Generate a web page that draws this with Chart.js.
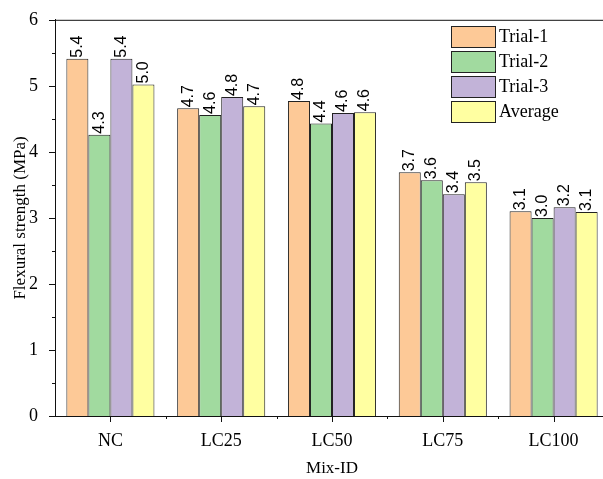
<!DOCTYPE html>
<html>
<head>
<meta charset="utf-8">
<script src="https://cdn.jsdelivr.net/npm/chart.js@4"></script>
<style>
  html, body { margin: 0; padding: 0; background: #fff; overflow: hidden; }
  #wrap { width: 620px; height: 479px; }
</style>
</head>
<body>
<div id="wrap"><canvas id="chart" width="620" height="479"></canvas></div>
<script>
const categories = ['NC', 'LC25', 'LC50', 'LC75', 'LC100']
const seriesNames = ['Trial-1', 'Trial-2', 'Trial-3', 'Average']
const trial1 = [5.41, 4.66, 4.77, 3.69, 3.10]
const trial2 = [4.26, 4.56, 4.43, 3.57, 3.00]
const trial3 = [5.41, 4.83, 4.59, 3.36, 3.16]
const average = [5.02, 4.69, 4.60, 3.54, 3.09]
const yTicks = [0, 1, 2, 3, 4, 5, 6]

const colors = ['#fdc997', '#a1da9f', '#c2b3d8', '#ffffa1']
const serif = '"Liberation Serif", "Times New Roman", serif'

// etiquetas verticais em cima das barras
const valueLabels = {
    id: 'valueLabels',
    afterDatasetsDraw(chart) {
        const ctx = chart.ctx
        ctx.save()
        ctx.font = '16px "Liberation Sans", Arial, sans-serif'
        ctx.fillStyle = '#000'
        ctx.textAlign = 'left'
        ctx.textBaseline = 'middle'
        chart.data.datasets.forEach((ds, i) => {
            chart.getDatasetMeta(i).data.forEach((bar, j) => {
                ctx.save()
                ctx.translate(bar.x, bar.y - 1)
                ctx.rotate(-Math.PI / 2)
                ctx.fillText(ds.data[j].toFixed(1), 0, 0)
                ctx.restore()
            })
        })
        ctx.restore()
    }
}

// moldura, ticks e legenda
const frame = {
    id: 'frame',
    afterDraw(chart) {
        const ctx = chart.ctx
        const a = chart.chartArea
        const y = chart.scales.y
        const x = chart.scales.x
        ctx.save()
        ctx.strokeStyle = '#111'
        ctx.lineWidth = 1
        ctx.beginPath()
        ctx.moveTo(a.left, a.top + 0.5)
        ctx.lineTo(a.right, a.top + 0.5)
        ctx.moveTo(a.right + 0.5, a.top)
        ctx.lineTo(a.right + 0.5, a.bottom)
        // y ticks
        for (let v = 0; v <= 6; v += 0.5) {
            const py = Math.round(y.getPixelForValue(v)) + 0.5
            const len = Number.isInteger(v) ? 6 : 3
            ctx.moveTo(a.left - len, py)
            ctx.lineTo(a.left, py)
        }
        // x ticks
        categories.forEach((c, i) => {
            const px = Math.round(x.getPixelForValue(i)) + 0.5
            ctx.moveTo(px, a.bottom)
            ctx.lineTo(px, a.bottom + 6)
            if (i > 0) {
                const pm = Math.round((x.getPixelForValue(i) + x.getPixelForValue(i - 1)) / 2) + 0.5
                ctx.moveTo(pm, a.bottom)
                ctx.lineTo(pm, a.bottom + 3)
            }
        })
        ctx.stroke()

        // legenda
        const lx = 451, ly = 26, bw = 44, bh = 21, step = 25
        ctx.font = '18px ' + serif
        ctx.textBaseline = 'middle'
        ctx.textAlign = 'left'
        seriesNames.forEach((name, i) => {
            ctx.fillStyle = colors[i]
            ctx.fillRect(lx, ly + i * step, bw, bh)
            ctx.strokeStyle = '#222'
            ctx.strokeRect(lx + 0.5, ly + i * step + 0.5, bw, bh)
            ctx.fillStyle = '#000'
            ctx.fillText(name, lx + bw + 4, ly + i * step + bh / 2 + 1)
        })
        ctx.restore()
    }
}

const data = [trial1, trial2, trial3, average]

new Chart(document.getElementById('chart'), {
    type: 'bar',
    data: {
        labels: categories,
        datasets: seriesNames.map((name, i) => ({
            label: name,
            data: data[i],
            backgroundColor: colors[i],
            borderColor: '#222',
            borderWidth: 1,
            barPercentage: 1.0,
            categoryPercentage: 0.795
        }))
    },
    options: {
        responsive: false,
        animation: false,
        layout: { padding: { top: 16, right: 11, left: 0, bottom: 0 } },
        plugins: {
            legend: { display: false },
            tooltip: { enabled: false }
        },
        scales: {
            x: {
                grid: { display: false, offset: false },
                border: { display: true, color: '#111', width: 1 },
                ticks: {
                    color: '#000',
                    font: { family: serif, size: 18 },
                    padding: 6,
                    maxRotation: 0
                },
                title: {
                    display: true,
                    text: 'Mix-ID',
                    color: '#000',
                    font: { family: serif, size: 17 },
                    padding: { top: 4, bottom: 0 }
                },
                afterFit(scale) { scale.height = 63 }
            },
            y: {
                min: 0,
                max: 6,
                afterBuildTicks(scale) {
                    scale.ticks = yTicks.map(v => ({ value: v }))
                },
                grid: { display: false },
                border: { display: true, color: '#111', width: 1 },
                ticks: {
                    color: '#000',
                    font: { family: serif, size: 18 },
                    padding: 9
                },
                title: {
                    display: true,
                    text: 'Flexural strength (MPa)',
                    color: '#000',
                    font: { family: serif, size: 17 },
                    padding: { top: 10, bottom: 2 }
                },
                afterFit(scale) { scale.width = 55 }
            }
        }
    },
    plugins: [valueLabels, frame]
})
</script>
</body>
</html>
